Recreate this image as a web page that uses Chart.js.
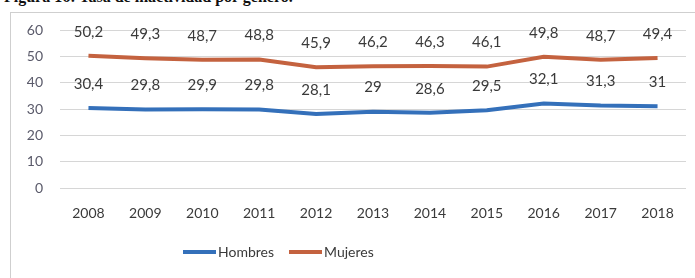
<!DOCTYPE html>
<html>
<head>
<meta charset="utf-8">
<script src="https://cdn.jsdelivr.net/npm/chart.js@4.4.1/dist/chart.umd.min.js"></script>
<style>
  html, body { margin: 0; padding: 0; background: #fff; overflow: hidden; }
  body { width: 695px; height: 278px; position: relative; font-family: Lato, "Open Sans", sans-serif; }
  #title { position: absolute; left: 4px; top: -12px; font: bold 16px "Liberation Serif", serif; color: #111; white-space: nowrap; }
  #frame { position: absolute; left: 10px; top: 12px; width: 700px; height: 280px; border: 1px solid #cfcfcf; box-sizing: border-box; }
  #wrap { position: absolute; left: 0; top: 0; width: 695px; height: 278px; }
  #legend { position: absolute; left: 183px; top: 243px; display: flex; align-items: center; font: 14px Lato, sans-serif; color: #3a3a3a; }
  #legend .item { display: flex; align-items: center; margin-right: 15px; }
  #legend .sw { display: inline-block; width: 33px; height: 4px; margin-right: 2px; }
</style>
</head>
<body>
<div id="title">Figura 16:  Tasa de inactividad por género.</div>
<div id="frame"></div>
<div id="wrap"><canvas id="c" width="695" height="278"></canvas></div>
<div id="legend"></div>
<script>
const categories = ["2008","2009","2010","2011","2012","2013","2014","2015","2016","2017","2018"];
const hombres = [30.4, 29.8, 29.9, 29.8, 28.1, 29, 28.6, 29.5, 32.1, 31.3, 31];
const mujeres = [50.2, 49.3, 48.7, 48.8, 45.9, 46.2, 46.3, 46.1, 49.8, 48.7, 49.4];
const yTicks = [0, 10, 20, 30, 40, 50, 60];
const seriesNames = ["Hombres", "Mujeres"];
const seriesColors = ["#3470BA", "#C4623F"];

const labelPlugin = {
  id: 'valueLabels',
  afterDatasetsDraw(chart) {
    const ctx = chart.ctx;
    ctx.save();
    ctx.font = '15px Lato, sans-serif';
    ctx.fillStyle = '#3a3a3a';
    ctx.textAlign = 'center';
    ctx.textBaseline = 'middle';
    chart.data.datasets.forEach((ds, i) => {
      const meta = chart.getDatasetMeta(i);
      meta.data.forEach((pt, j) => {
        const txt = String(ds.data[j]).replace('.', ',');
        ctx.fillText(txt, pt.x, pt.y - 24);
      });
    });
    ctx.restore();
  }
};

const chart = new Chart(document.getElementById('c'), {
  type: 'line',
  data: {
    labels: categories,
    datasets: [
      { label: seriesNames[0], data: hombres, borderColor: seriesColors[0], backgroundColor: seriesColors[0], borderWidth: 4, pointRadius: 0, tension: 0 },
      { label: seriesNames[1], data: mujeres, borderColor: seriesColors[1], backgroundColor: seriesColors[1], borderWidth: 4, pointRadius: 0, tension: 0 }
    ]
  },
  options: {
    responsive: false,
    animation: false,
    layout: { padding: { left: 0, right: 9, top: 30, bottom: 50 } },
    plugins: { legend: { display: false }, tooltip: { enabled: false }, title: { display: false } },
    scales: {
      x: {
        offset: true,
        grid: { display: false, drawTicks: false },
        border: { display: false },
        ticks: { color: '#3a3a3a', font: { size: 14, family: 'Lato' }, padding: 17, maxRotation: 0 },
        afterFit(s) { s.height = 40; }
      },
      y: {
        min: 0, max: 60,
        afterBuildTicks(s) { s.ticks = yTicks.map(v => ({ value: v })); },
        grid: { color: '#d6d6d6', lineWidth: 1, drawTicks: false },
        border: { display: false },
        ticks: { color: '#5a5a6a', font: { size: 14, family: 'Lato' }, padding: 17 },
        afterFit(s) { s.width = 60; }
      }
    }
  },
  plugins: [labelPlugin]
});

const leg = document.getElementById('legend');
chart.data.datasets.forEach(ds => {
  const it = document.createElement('span');
  it.className = 'item';
  const sw = document.createElement('span');
  sw.className = 'sw';
  sw.style.background = ds.borderColor;
  const t = document.createElement('span');
  t.textContent = ds.label;
  it.appendChild(sw); it.appendChild(t);
  leg.appendChild(it);
});
</script>
</body>
</html>
